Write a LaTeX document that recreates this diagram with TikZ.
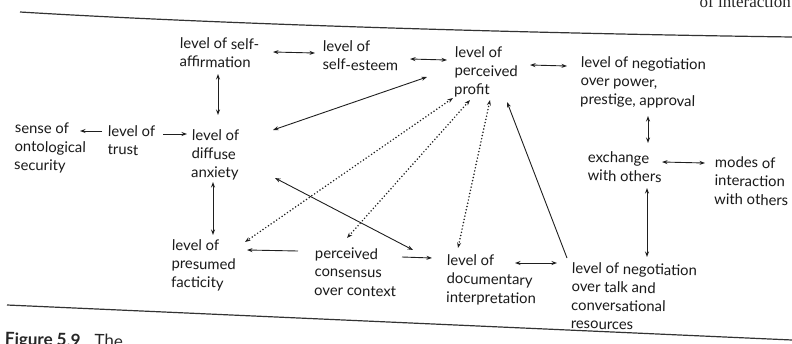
\documentclass[tikz,border=0pt]{standalone}
\usepackage{fontspec}
\setmainfont{Lato}
\newfontfamily\headfont{Liberation Serif}
\usetikzlibrary{arrows.meta,calc}

\begin{document}
\begin{tikzpicture}[x=1pt,y=-1pt,
  lbl/.style={anchor=north west, inner sep=0pt, align=left,
    font=\fontsize{14.8}{18.5}\selectfont, text=black!90, rotate=-1.2},
  tip/.tip={Stealth[length=5.5pt,width=4pt]},
  link/.style={line width=0.9pt, draw=black!88, tip-tip},
  oneway/.style={line width=0.9pt, draw=black!88, -tip},
  dotlink/.style={link, line cap=round, dash pattern=on 0pt off 3.3pt, line width=1.7pt},
  rule/.style={line width=1.2pt, draw=black!80}
]
\useasboundingbox (0,0) rectangle (792,343);
\clip (0,0) rectangle (792,343);

% running head, rules and caption
\node[anchor=base east, inner sep=0pt, font=\headfont\fontsize{17}{20}\selectfont, text=black!85] (runhead) at (791,7) {of interaction};
\draw[rule] (20,12) .. controls (200,23) and (500,33) .. (792,37);
\draw[rule] (7,305) -- (792,340);
\node[anchor=north west, inner sep=0pt, font=\fontsize{17}{20}\selectfont, text=black!85, rotate=-1.2] (caption) at (5,332) {\textbf{Figure 5.9}\hspace{14pt}The};

% concepts
\node[lbl] (saff) at (180,37) {level of self-\\affirmation};
\node[lbl] (sest) at (323,40) {level of\\self-esteem};
\node[lbl] (prof) at (455,46) {level of\\perceived\\profit};
\node[lbl] (negp) at (581,56) {level of negotiation\\over power,\\prestige, approval};
\node[lbl] (sens) at (15,122) {sense of\\ontological\\security};
\node[lbl] (trust) at (108,125) {level of\\trust};
\node[lbl] (anx) at (192,129) {level of\\diffuse\\anxiety};
\node[lbl] (exch) at (588,151) {exchange\\with others};
\node[lbl] (modes) at (715,156) {modes of\\interaction\\with others};
\node[lbl] (fact) at (172,239) {level of\\presumed\\facticity};
\node[lbl] (cons) at (315,247) {perceived\\consensus\\over context};
\node[lbl] (doc) at (447,254) {level of\\documentary\\interpretation};
\node[lbl] (negt) at (572,262) {level of negotiation\\over talk and\\conversational\\resources};

% solid links
\draw[link] ($(saff.north west)+(93,15)$) -- ($(sest.north west)+(-8,13)$);
\draw[link] ($(sest.north west)+(87,19)$) -- ($(prof.north west)+(-8,14)$);
\draw[link] ($(prof.north west)+(75,19)$) -- ($(negp.north west)+(-14,10)$);
\draw[link] ($(saff.north west)+(38,37)$) -- ($(anx.north west)+(26,-14)$);
\draw[oneway] ($(trust.north west)+(-6,6)$) -- ($(sens.north west)+(65,9)$);
\draw[oneway] ($(trust.north west)+(55,9)$) -- ($(anx.north west)+(-5,5)$);
\draw[link] ($(anx.north west)+(81,1)$) -- ($(prof.north west)+(-28,31)$);
\draw[link] ($(anx.north west)+(21,53)$) -- ($(fact.north west)+(41,-4)$);
\draw[link] ($(anx.north west)+(83,49)$) -- ($(doc.north west)+(-34,-4)$);
\draw[oneway] ($(negt.north west)+(-5,-4)$) -- ($(prof.north west)+(52,56)$);
\draw[oneway] ($(cons.north west)+(-17,4)$) -- ($(fact.north west)+(75,11)$);
\draw[oneway] ($(cons.north west)+(87,10)$) -- ($(doc.north west)+(-15,4)$);
\draw[link] ($(doc.north west)+(68,9)$) -- ($(negt.north west)+(-15,1)$);
\draw[link] ($(negp.north west)+(67,60)$) -- ($(exch.north west)+(60,-8)$);
\draw[link] ($(exch.north west)+(74,11)$) -- ($(modes.north west)+(-10,7)$);
\draw[link] ($(exch.north west)+(59,37)$) -- ($(negt.north west)+(75,-5)$);

% dotted links
\draw[dotlink] ($(prof.north west)+(-2,52)$) -- ($(fact.north west)+(73,3)$);
\draw[dotlink] ($(prof.north west)+(15,54)$) -- ($(cons.north west)+(32,-9)$);
\draw[dotlink] ($(prof.north west)+(35,54)$) -- ($(doc.north west)+(11,-6)$);
\end{tikzpicture}
\end{document}
